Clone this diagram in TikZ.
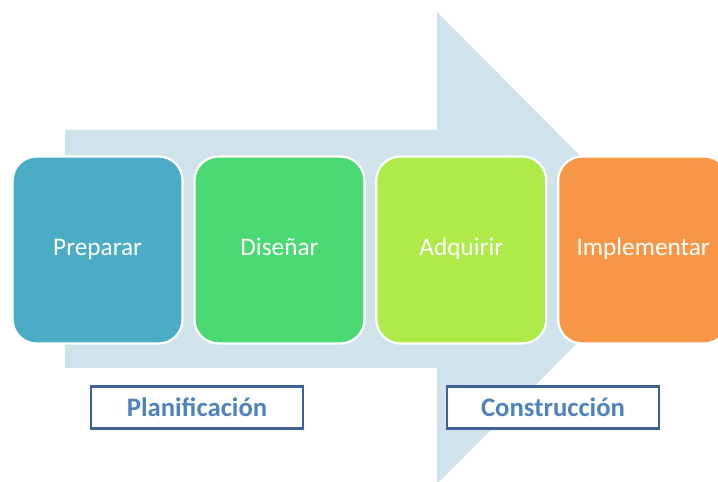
\documentclass[tikz,border=0pt]{standalone}
\usepackage{fontspec}
\setmainfont{Carlito}
\usetikzlibrary{positioning}
\definecolor{flecha}{HTML}{D1E3EA}
\definecolor{azul}{HTML}{4BACC6}
\definecolor{verde}{HTML}{4AD973}
\definecolor{lima}{HTML}{AEEA48}
\definecolor{naranja}{HTML}{F79646}
\definecolor{marco}{HTML}{3E6296}
\definecolor{letra}{HTML}{4F81BD}
\tikzset{
  etapa/.style={draw=white, line width=1.6pt, rounded corners=0.6cm,
    minimum width=4.25cm, minimum height=4.675cm, text=white,
    text height=2ex, text depth=0.5ex,
    font=\fontsize{18}{20}\selectfont},
  fase/.style={draw=marco, line width=2pt, fill=white,
    minimum width=5.3cm, minimum height=1.05cm, text=letra,
    font=\bfseries\fontsize{19}{21}\selectfont}
}
\begin{document}
\begin{tikzpicture}
\useasboundingbox (0,0) rectangle (17.95,12.05);
%flecha de fondo
\fill[flecha] (1.625,8.8) -- (10.925,8.8) -- (10.925,11.75) -- (16.8,5.85)
  -- (10.925,-0.05) -- (10.925,2.85) -- (1.625,2.85) -- cycle;
%etapas
\node[etapa, fill=azul] (preparar) at (2.44,5.8) {Preparar};
\node[etapa, fill=verde, right=0.24cm of preparar] (disenar) {Diseñar};
\node[etapa, fill=lima, right=0.24cm of disenar] (adquirir) {Adquirir};
\node[etapa, fill=naranja, right=0.24cm of adquirir] (implementar) {Implementar};
%fases
\node[fase] (planificacion) at (4.925,1.86) {Planificación};
\node[fase] (construccion) at (13.825,1.86) {Construcción};
\end{tikzpicture}
\end{document}
